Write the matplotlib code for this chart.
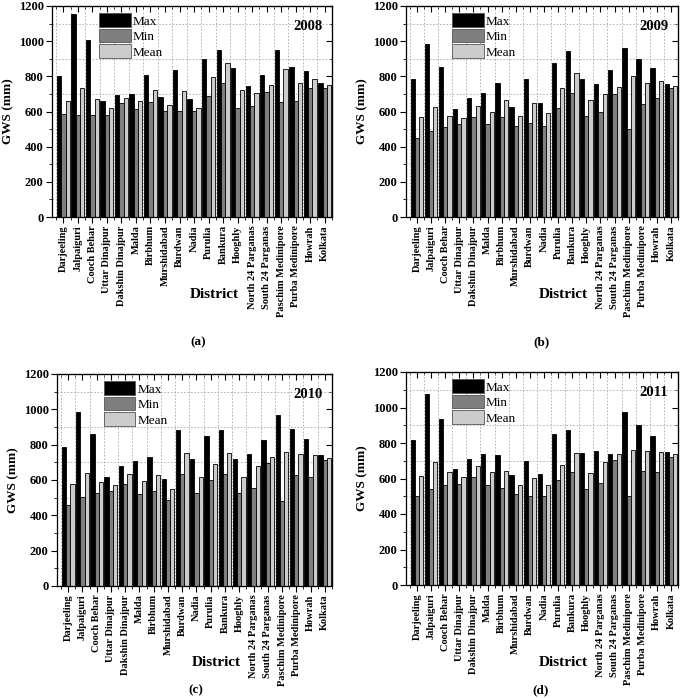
import numpy as np
import matplotlib
matplotlib.use('Agg')
import matplotlib.pyplot as plt
from matplotlib.ticker import MultipleLocator

plt.rcParams['font.family'] = ['Liberation Serif', 'DejaVu Serif']

# District names (x categories)
districts = ['Darjeeling', 'Jalpaiguri', 'Cooch Behar', 'Uttar Dinajpur',
             'Dakshin Dinajpur', 'Malda', 'Birbhum', 'Murshidabad', 'Burdwan',
             'Nadia', 'Purulia', 'Bankura', 'Hooghly', 'North 24 Parganas',
             'South 24 Parganas', 'Paschim Medinipore', 'Purba Medinipore',
             'Howrah', 'Kolkata']

# GWS (mm) values
max_2008 = [800, 1155, 1008, 658, 695, 698, 806, 683, 836, 670, 898, 952, 850, 745, 806, 952, 854, 828, 760]
min_2008 = [588, 580, 580, 580, 650, 612, 652, 605, 605, 603, 688, 762, 620, 632, 710, 652, 660, 735, 735]
mean_2008 = [657, 732, 670, 618, 675, 660, 722, 637, 717, 620, 795, 875, 720, 708, 750, 840, 762, 785, 748]

max_2009 = [787, 985, 855, 615, 676, 703, 762, 623, 783, 646, 875, 945, 785, 757, 835, 960, 900, 845, 757]
min_2009 = [448, 488, 510, 527, 567, 530, 567, 520, 537, 520, 618, 703, 577, 597, 700, 500, 640, 675, 731]
mean_2009 = [568, 628, 575, 562, 632, 598, 668, 573, 651, 592, 732, 820, 668, 700, 740, 803, 760, 771, 745]

max_2010 = [785, 986, 862, 617, 677, 708, 728, 604, 883, 718, 851, 884, 718, 749, 825, 966, 890, 834, 742]
min_2010 = [460, 504, 528, 538, 575, 523, 536, 487, 633, 526, 598, 632, 527, 553, 697, 479, 628, 616, 712]
mean_2010 = [577, 640, 589, 572, 636, 596, 631, 547, 755, 617, 688, 755, 617, 682, 732, 758, 748, 742, 725]

max_2011 = [818, 1078, 937, 654, 712, 737, 731, 618, 700, 624, 851, 874, 746, 757, 738, 976, 900, 842, 751]
min_2011 = [501, 542, 561, 570, 608, 561, 546, 511, 501, 500, 590, 634, 540, 572, 704, 500, 643, 634, 720]
mean_2011 = [616, 693, 637, 608, 673, 635, 642, 566, 601, 565, 674, 743, 629, 692, 738, 763, 757, 752, 737]

years = ['2008', '2009', '2010', '2011']
panel_tags = ['(a)', '(b)', '(c)', '(d)']
series = [(max_2008, min_2008, mean_2008), (max_2009, min_2009, mean_2009),
          (max_2010, min_2010, mean_2010), (max_2011, min_2011, mean_2011)]

W, H = 685, 698
fig = plt.figure(figsize=(W / 100, H / 100), dpi=100)

# axes boxes in pixels: left, right, top, bottom
boxes = [(52, 332, 6, 217), (406, 678, 6, 217),
         (57, 332, 374, 586), (406, 678, 372, 585)]
tag_pos = [(198, 342), (542, 342), (196, 690), (541, 690)]

x = np.arange(len(districts))
w = 0.3
colors = ['black', '#7f7f7f', '#cccccc']
names = ['Max', 'Min', 'Mean']

for i, (l, r, t, b) in enumerate(boxes):
    ax = fig.add_axes([l / W, (H - b) / H, (r - l) / W, (b - t) / H])
    ax.set_axisbelow(True)
    for k in range(3):
        ax.bar(x + (k - 1) * w, series[i][k], width=w, color=colors[k],
               edgecolor='black', linewidth=0.6, label=names[k], zorder=2)
    ax.set_xlim(-0.78, 18.5)
    ax.set_ylim(0, 1200)
    ax.set_xticks(x)
    ax.set_xticklabels(districts, rotation=90, fontweight='bold', fontsize=7.5)
    ax.xaxis.set_minor_locator(MultipleLocator(1, offset=0.5))
    ax.yaxis.set_major_locator(MultipleLocator(200))
    ax.yaxis.set_minor_locator(MultipleLocator(100))
    for lab in ax.get_yticklabels():
        lab.set_fontweight('bold')
        lab.set_fontsize(9)
    ax.tick_params(which='major', direction='out', length=4, width=0.8, pad=2)
    ax.tick_params(which='minor', direction='out', length=2, width=0.6)
    ax.grid(which='minor', linestyle=(0, (2, 2)), color='#aaaaaa', linewidth=0.6, zorder=0)
    for s in ax.spines.values():
        s.set_linewidth(0.9)
        s.set_zorder(4)

    top = ax.secondary_xaxis('top')
    top.set_xticks(x)
    top.xaxis.set_minor_locator(MultipleLocator(1, offset=0.5))
    top.tick_params(which='both', direction='in', labeltop=False)
    top.tick_params(which='major', length=4)
    top.tick_params(which='minor', length=2)
    right = ax.secondary_yaxis('right')
    right.yaxis.set_major_locator(MultipleLocator(200))
    right.yaxis.set_minor_locator(MultipleLocator(100))
    right.tick_params(which='both', direction='in', labelright=False)
    right.tick_params(which='major', length=4)
    right.tick_params(which='minor', length=2)

    ax.set_ylabel('GWS (mm)', fontweight='bold', fontsize=9.5, labelpad=3)
    ax.text(0.965, 0.905, years[i], transform=ax.transAxes, ha='right', va='center',
            fontweight='bold', fontsize=10.5)
    leg = ax.legend(loc='upper left', bbox_to_anchor=(0.15, 0.99), frameon=False,
                    fontsize=9.5, handlelength=2.4, handleheight=1.2,
                    labelspacing=0.1, handletextpad=0.15, borderaxespad=0)
    for p in leg.get_patches():
        p.set_edgecolor('#555555')

    cx = l + (r - l) * 0.58
    fig.text(cx / W, 1 - (b + 77) / H, 'District', ha='center', va='center',
             fontweight='bold', fontsize=11)
    fig.text(tag_pos[i][0] / W, 1 - tag_pos[i][1] / H, panel_tags[i],
             ha='center', va='center', fontweight='bold', fontsize=9.5)

fig.savefig('out.png', dpi=100)
